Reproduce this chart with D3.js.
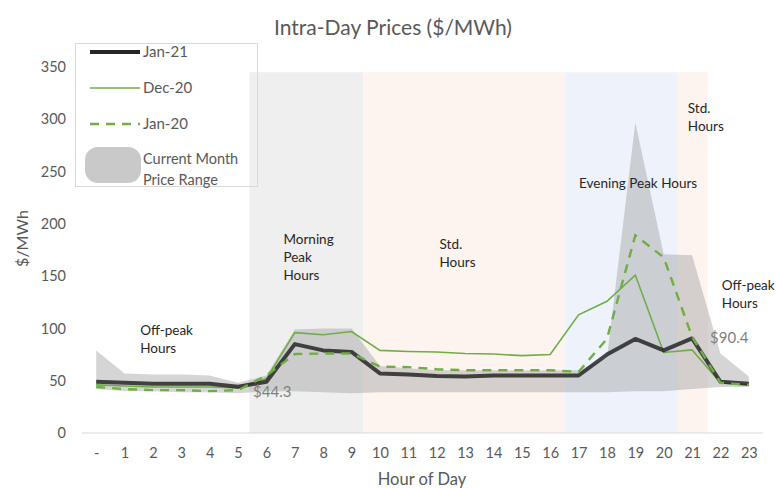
<!DOCTYPE html>
<html>
<head>
<meta charset="utf-8">
<script src="https://cdn.jsdelivr.net/npm/d3@7"></script>
<style>
  body { margin: 0; background: #fff; }
  text { font-family: Lato, "Open Sans", sans-serif; }
</style>
</head>
<body>
<div id="chart"></div>
<script>
// hour labels on the x axis
var hours = ["-", "1", "2", "3", "4", "5", "6", "7", "8", "9", "10", "11",
             "12", "13", "14", "15", "16", "17", "18", "19", "20", "21", "22", "23"];
var yTicks = [0, 50, 100, 150, 200, 250, 300, 350];

var jan21 = [49, 48, 47, 47, 47, 44.3, 49, 85, 79, 77.5, 57, 56, 54.5, 54, 55, 55, 55, 55, 75, 90, 79, 90.4, 49, 47];
var dec20 = [46, 45, 44, 44, 44, 43, 52, 96, 94, 97, 79, 78, 77.5, 76, 75.5, 74, 75, 113, 126, 151, 77, 79.5, 48, 46];
var jan20 = [44, 42, 41, 41, 40, 41, 55, 75.5, 76, 76, 63.5, 63, 61, 60, 60, 60, 60, 58.5, 90, 189, 168, 92, 48, 46];
var rangeHigh = [79, 57, 56, 56, 55, 48, 55, 99, 100, 100, 64, 62, 60, 60, 60, 60, 60, 60, 72, 297, 171, 170, 76, 54];
var rangeLow = [42, 40, 40, 39, 39, 38, 40, 40, 39, 38, 39, 39, 39, 39, 39, 39, 39, 39, 39, 40, 40, 42, 44, 44];

// time-of-use bands (in hours)
var bandStart = [5.4, 9.4, 16.5, 20.5];
var bandEnd = [9.4, 16.5, 20.5, 21.55];
var bandFill = ["#efefef", "#fdf4f0", "#eef3fb", "#fdf4f0"];

var width = 776, height = 488;
var svg = d3.select("#chart").append("svg")
    .attr("width", width).attr("height", height);

var x = d3.scalePoint().domain(hours).range([82, 763]).padding(0.5);
var xh = d3.scaleLinear().domain([0, 23]).range([x(hours[0]), x(hours[23])]);
var y = d3.scaleLinear().domain([0, 350]).range([433, 67]);

// bands
svg.append("g").selectAll("rect")
    .data(bandStart)
    .join("rect")
    .attr("x", function (d) { return xh(d); })
    .attr("width", function (d, i) { return xh(bandEnd[i]) - xh(d); })
    .attr("y", y(345))
    .attr("height", y(0) - y(345))
    .attr("fill", function (d, i) { return bandFill[i]; });

// baseline
svg.append("line")
    .attr("x1", 82).attr("x2", 763)
    .attr("y1", y(0)).attr("y2", y(0))
    .attr("stroke", "#d9d9d9").attr("stroke-width", 1);

// y axis labels
var yAxis = d3.axisLeft(y).tickValues(yTicks).tickSize(0).tickPadding(0);
svg.append("g")
    .attr("transform", "translate(66,0)")
    .call(yAxis)
    .call(function (g) { g.select(".domain").remove(); })
    .selectAll("text")
    .attr("fill", "#595959")
    .style("font-size", "14.5px")
    .style("font-family", "Lato, sans-serif");

// x axis labels
var xAxis = d3.axisBottom(x).tickSize(0).tickPadding(15);
svg.append("g")
    .attr("transform", "translate(0," + y(0) + ")")
    .call(xAxis)
    .call(function (g) { g.select(".domain").remove(); })
    .selectAll("text")
    .attr("fill", "#595959")
    .style("font-size", "14.5px")
    .style("font-family", "Lato, sans-serif");

// range area
var area = d3.area()
    .x(function (d, i) { return x(hours[i]); })
    .y0(function (d, i) { return y(rangeLow[i]); })
    .y1(function (d) { return y(d); });
svg.append("path")
    .datum(rangeHigh)
    .attr("d", area)
    .attr("fill", "#9a9a9a")
    .attr("fill-opacity", 0.42);

var line = d3.line()
    .x(function (d, i) { return x(hours[i]); })
    .y(function (d) { return y(d); });

svg.append("path").datum(dec20).attr("d", line)
    .attr("fill", "none").attr("stroke", "#70ad47").attr("stroke-width", 1.6);
svg.append("path").datum(jan21).attr("d", line)
    .attr("fill", "none").attr("stroke", "#262626").attr("stroke-opacity", 0.85)
    .attr("stroke-width", 4).attr("stroke-linejoin", "round");
svg.append("path").datum(jan20).attr("d", line)
    .attr("fill", "none").attr("stroke", "#70ad47").attr("stroke-width", 2.4)
    .attr("stroke-dasharray", "9,7");

// value callouts
svg.append("text").attr("x", x("5") + 15).attr("y", y(44.3) + 10)
    .attr("fill", "#7f7f7f").style("font-size", "15px").text("$44.3");
svg.append("text").attr("x", x("21") + 18).attr("y", y(90.4) + 5)
    .attr("fill", "#7f7f7f").style("font-size", "15px").text("$90.4");

// band annotations
function note(lines, hx, vy, anchor) {
    var t = svg.append("text")
        .attr("x", xh(hx)).attr("y", y(vy))
        .attr("fill", "#262626")
        .attr("text-anchor", anchor || "start")
        .style("font-size", "13.5px");
    lines.forEach(function (s, i) {
        t.append("tspan").attr("x", xh(hx)).attr("dy", i ? 18 : 0).text(s);
    });
}
note(["Off-peak", "Hours"], 1.55, 94);
note(["Morning", "Peak", "Hours"], 6.6, 181);
note(["Std.", "Hours"], 12.1, 176);
note(["Evening Peak Hours"], 19.1, 234, "middle");
note(["Std.", "Hours"], 20.85, 306);
note(["Off-peak", "Hours"], 22.05, 137);

// title
svg.append("text").attr("x", 393).attr("y", 35)
    .attr("text-anchor", "middle").attr("fill", "#595959")
    .style("font-size", "21px").text("Intra-Day Prices ($/MWh)");

// axis titles
svg.append("text")
    .attr("transform", "translate(28," + y(186) + ") rotate(-90)")
    .attr("text-anchor", "middle").attr("fill", "#595959")
    .style("font-size", "16px").text("$/MWh");
svg.append("text").attr("x", 422).attr("y", 485)
    .attr("text-anchor", "middle").attr("fill", "#595959")
    .style("font-size", "16.5px").text("Hour of Day");

// legend
var legend = svg.append("g");
legend.append("rect")
    .attr("x", 75.5).attr("y", 43.5).attr("width", 182).attr("height", 143)
    .attr("fill", "none").attr("stroke", "#d9d9d9");
var legendNames = ["Jan-21", "Dec-20", "Jan-20"];
var legendStroke = ["#262626", "#70ad47", "#70ad47"];
var legendWidth = [4, 1.6, 2.4];
var legendDash = [null, null, "9,7"];
legendNames.forEach(function (n, i) {
    var ly = 52 + i * 36;
    legend.append("line").attr("x1", 90).attr("x2", 140)
        .attr("y1", ly).attr("y2", ly)
        .attr("stroke", legendStroke[i]).attr("stroke-width", legendWidth[i])
        .attr("stroke-dasharray", legendDash[i]);
    legend.append("text").attr("x", 143).attr("y", ly + 5)
        .attr("fill", "#595959").style("font-size", "15px").text(n);
});
legend.append("rect").attr("x", 85).attr("y", 147).attr("width", 56).attr("height", 36)
    .attr("rx", 13).attr("fill", "#c9c9c9");
legend.append("text").attr("x", 143).attr("y", 164)
    .attr("fill", "#595959").style("font-size", "14.5px").text("Current Month");
legend.append("text").attr("x", 143).attr("y", 185)
    .attr("fill", "#595959").style("font-size", "14.5px").text("Price Range");
</script>
</body>
</html>
